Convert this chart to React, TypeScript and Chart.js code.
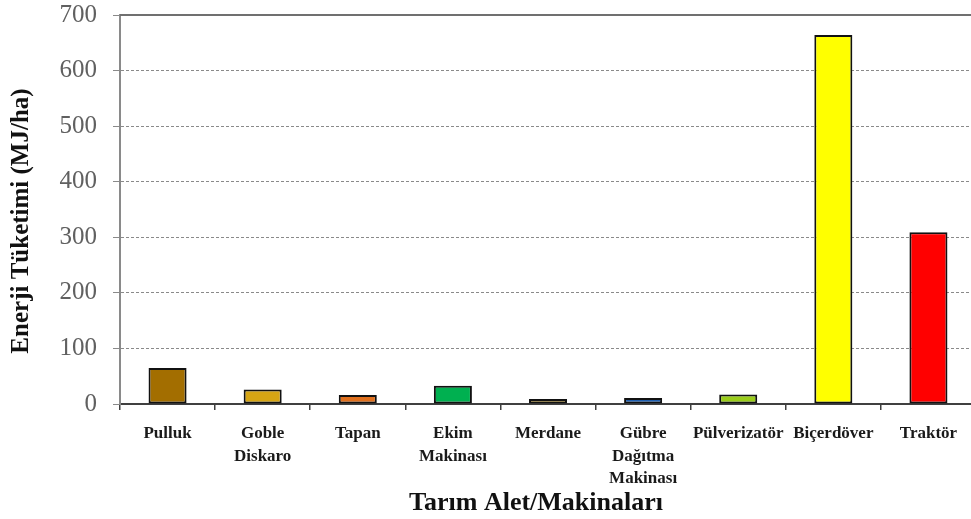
import React, { useEffect, useRef } from "react";
import { Chart, registerables } from "chart.js";

Chart.register(...registerables);

const categories: (string | string[])[] = [
  "Pulluk",
  ["Goble", "Diskaro"],
  "Tapan",
  ["Ekim", "Makinası"],
  "Merdane",
  ["Gübre", "Dağıtma", "Makinası"],
  "Pülverizatör",
  "Biçerdöver",
  "Traktör",
];

const energyValues = [65, 26, 16, 33, 9, 11, 17, 664, 309];

const barColors = [
  "#A36E00",
  "#D6A514",
  "#E0701E",
  "#00B050",
  "#9A7A1E",
  "#1F5FAF",
  "#9ACD1A",
  "#FFFF00",
  "#FF0000",
];

const yTicks = [0, 100, 200, 300, 400, 500, 600, 700];

const yTitle = "Enerji Tüketimi (MJ/ha)";
const xTitle = "Tarım Alet/Makinaları";

const SERIF = "'Liberation Serif', 'Times New Roman', serif";

// Axis titles and the solid top frame line
const decorations = {
  id: "decorations",
  afterDraw(chart: any) {
    const { ctx, chartArea } = chart;
    ctx.save();
    ctx.strokeStyle = "#707070";
    ctx.lineWidth = 2;
    ctx.beginPath();
    ctx.moveTo(chartArea.left, chartArea.top);
    ctx.lineTo(chartArea.right, chartArea.top);
    ctx.stroke();

    ctx.fillStyle = "#111";
    ctx.textAlign = "center";
    ctx.textBaseline = "middle";
    ctx.font = `bold 25px ${SERIF}`;
    ctx.translate(22, 221);
    ctx.rotate(-Math.PI / 2);
    ctx.fillText(yTitle, 0, 0);
    ctx.restore();

    ctx.save();
    ctx.fillStyle = "#111";
    ctx.textAlign = "center";
    ctx.textBaseline = "middle";
    ctx.font = `bold 26px ${SERIF}`;
    ctx.fillText(xTitle, 536, 503);
    ctx.restore();
  },
};

export default function App() {
  const canvasRef = useRef<HTMLCanvasElement | null>(null);

  useEffect(() => {
    if (!canvasRef.current) return;
    const chart = new Chart(canvasRef.current, {
      type: "bar",
      data: {
        labels: categories,
        datasets: [
          {
            data: energyValues,
            backgroundColor: barColors,
            borderColor: "#111",
            borderWidth: 2,
            borderSkipped: false,
            categoryPercentage: 1,
            barPercentage: 0.4,
          },
        ],
      },
      options: {
        animation: false,
        responsive: false,
        maintainAspectRatio: false,
        layout: { padding: { top: 15, right: 0, bottom: 0, left: 0 } },
        plugins: {
          legend: { display: false },
          tooltip: { enabled: false },
        },
        scales: {
          x: {
            grid: {
              drawOnChartArea: false,
              drawTicks: true,
              tickLength: 6,
              color: "#404040",
              lineWidth: 1.5,
            },
            border: { display: true, color: "#404040", width: 2 },
            ticks: {
              autoSkip: false,
              maxRotation: 0,
              minRotation: 0,
              padding: 13,
              color: "#1a1a1a",
              font: { family: SERIF, size: 17, weight: "bold", lineHeight: 1.3 },
            },
            afterFit(scale: any) {
              scale.height = 115;
              scale.paddingLeft = 0;
              scale.paddingRight = 0;
            },
          },
          y: {
            min: 0,
            max: 700,
            afterBuildTicks(scale: any) {
              scale.ticks = yTicks.map((v) => ({ value: v }));
            },
            grid: {
              color: "#8a8a8a",
              lineWidth: 1,
              tickLength: 7,
              tickColor: "#8a8a8a",
            },
            border: { display: true, color: "#8a8a8a", width: 2, dash: [3, 2] },
            ticks: {
              padding: 16,
              color: "#606060",
              font: { family: SERIF, size: 25 },
            },
            afterFit(scale: any) {
              scale.width = 120;
              scale.paddingTop = 0;
              scale.paddingBottom = 0;
            },
          },
        },
      },
      plugins: [decorations],
    });
    return () => chart.destroy();
  }, []);

  return (
    <div
      style={{
        position: "fixed",
        left: 0,
        top: 0,
        width: 971,
        height: 519,
        overflow: "hidden",
        background: "#fff",
      }}
    >
      <canvas ref={canvasRef} width={976} height={519} style={{ display: "block" }} />
    </div>
  );
}
